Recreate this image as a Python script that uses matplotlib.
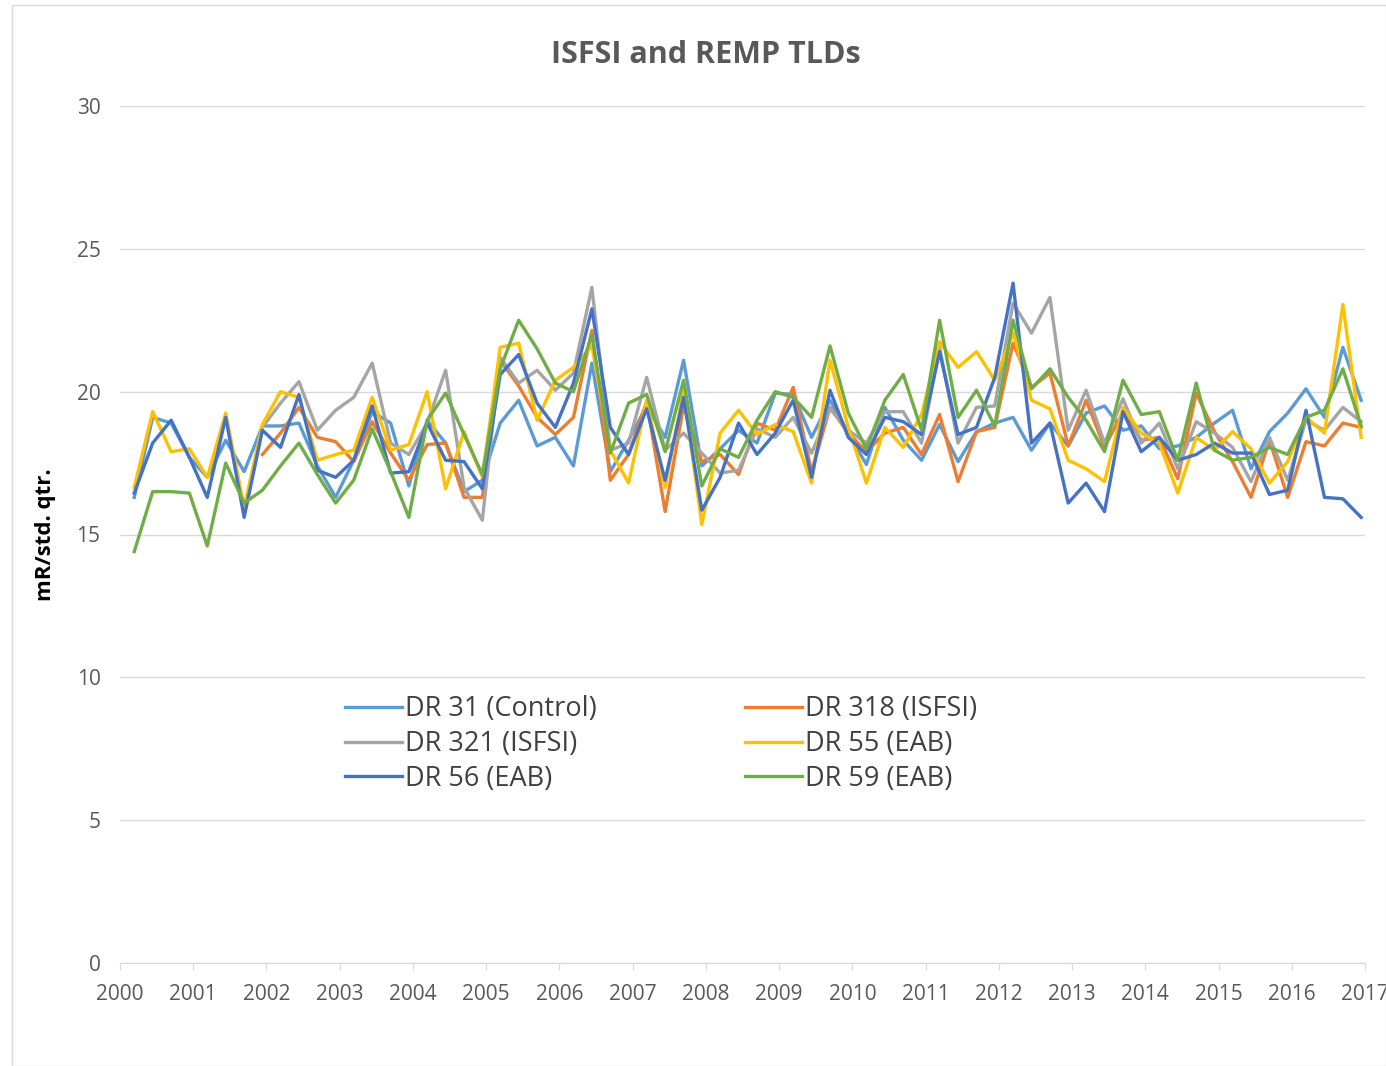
import numpy as np
import pandas as pd
import matplotlib
matplotlib.use("Agg")
import matplotlib.pyplot as plt
from matplotlib.patches import Rectangle

plt.rcParams['font.family'] = ['Open Sans', 'DejaVu Sans']

nan = np.nan
dates = pd.date_range("2000-03-01", periods=68, freq="3MS")

dr31 = [16.3, 19.1, 18.9, 17.7, 17.0, 18.3, 17.2, 18.8, 18.8, 18.9, 17.4, 16.3, 17.6, 19.3, 18.9, 16.7, 19.0, 18.2, 16.5, 16.9,
        18.9, 19.7, 18.1, 18.4, 17.4, 21.0, 17.2, 18.3, 19.5, 18.4, 21.1, 17.4, 18.0, 18.65, 18.2, 19.95, 19.9, 18.4, 19.7, 18.55,
        17.45, 19.45, 18.3, 17.6, 18.85, 17.55, 18.6, 18.9, 19.1, 17.95, 18.9, 18.1, 19.25, 19.5, 18.65, 18.8, 18.0, 18.1, 18.4, 18.9,
        19.35, 17.3, 18.6, 19.25, 20.1, 19.1, 21.55, 19.7]
dr318 = [nan, nan, nan, nan, nan, nan, nan, 17.8, 18.55, 19.45, 18.4, 18.25, 17.55, 18.95, 17.85, 16.9, 18.15, 18.2, 16.3, 16.3,
         21.1, 20.2, 19.1, 18.5, 19.1, 22.15, 16.9, 17.8, 19.65, 15.8, 19.5, 17.55, 17.8, 17.1, 18.9, 18.65, 20.15, 17.2, 19.45, 18.55,
         17.9, 18.55, 18.75, 17.8, 19.2, 16.85, 18.6, 18.75, 21.7, 20.15, 20.65, 18.1, 19.7, 18.05, 19.3, 18.3, 18.4, 16.95, 19.95, 18.6,
         17.55, 16.3, 18.3, 16.3, 18.25, 18.1, 18.9, 18.75]
dr321 = [nan, nan, nan, nan, nan, nan, nan, 18.75, 19.6, 20.35, 18.65, 19.35, 19.8, 21.0, 18.2, 17.8, 18.9, 20.75, 16.65, 15.5,
         21.2, 20.3, 20.75, 20.05, 20.65, 23.65, 17.95, 18.2, 20.5, 17.95, 18.55, 17.85, 17.15, 17.25, 18.7, 18.4, 19.1, 17.85, 19.4, 18.65,
         18.2, 19.3, 19.3, 18.2, 21.55, 18.2, 19.45, 19.5, 23.1, 22.05, 23.3, 18.65, 20.05, 18.2, 19.75, 18.2, 18.9, 17.3, 18.95, 18.55,
         18.05, 16.85, 18.4, 16.9, 19.0, 18.65, 19.45, 18.95]
dr55 = [16.65, 19.3, 17.9, 18.0, 17.0, 19.25, 15.95, 18.85, 20.0, 19.8, 17.6, 17.8, 17.95, 19.8, 17.95, 18.15, 20.0, 16.6, 18.6, 17.0,
        21.55, 21.7, 19.0, 20.4, 20.85, 21.6, 17.95, 16.8, 19.7, 16.65, 20.05, 15.35, 18.55, 19.35, 18.5, 18.85, 18.6, 16.8, 21.1, 18.75,
        16.8, 18.75, 18.05, 19.2, 21.75, 20.85, 21.4, 20.4, 22.05, 19.7, 19.4, 17.6, 17.3, 16.85, 19.45, 18.55, 18.2, 16.45, 18.4, 17.95,
        18.6, 18.0, 16.8, 17.55, 19.1, 18.55, 23.05, 18.4]
dr56 = [16.45, 18.2, 19.0, 17.7, 16.3, 19.1, 15.6, 18.65, 18.05, 19.9, 17.25, 17.0, 17.6, 19.5, 17.15, 17.2, 18.9, 17.6, 17.55, 16.6,
        20.6, 21.3, 19.6, 18.75, 20.3, 22.9, 18.75, 17.8, 19.4, 16.9, 19.8, 15.85, 17.0, 18.9, 17.8, 18.55, 19.7, 17.0, 20.05, 18.4,
        17.8, 19.1, 18.95, 18.5, 21.4, 18.5, 18.75, 20.5, 23.8, 18.2, 18.9, 16.1, 16.8, 15.8, 19.3, 17.9, 18.4, 17.6, 17.8, 18.2,
        17.85, 17.85, 16.4, 16.55, 19.35, 16.3, 16.25, 15.6]
dr59 = [14.4, 16.5, 16.5, 16.45, 14.6, 17.5, 16.1, 16.55, 17.4, 18.2, 17.1, 16.1, 16.9, 18.7, 17.2, 15.6, 19.0, 19.95, 18.5, 17.1,
        20.8, 22.5, 21.5, 20.3, 20.0, 22.0, 17.85, 19.6, 19.9, 17.9, 20.4, 16.7, 18.0, 17.7, 19.0, 20.0, 19.8, 19.1, 21.6, 19.25,
        18.0, 19.7, 20.6, 18.65, 22.5, 19.1, 20.05, 18.8, 22.5, 20.1, 20.8, 19.8, 19.0, 17.9, 20.4, 19.2, 19.3, 17.6, 20.3, 17.95,
        17.6, 17.7, 18.05, 17.8, 19.1, 19.35, 20.8, 18.8]

series = [("DR 31 (Control)", dr31, "#5B9BD5"),
          ("DR 318 (ISFSI)", dr318, "#ED7D31"),
          ("DR 321 (ISFSI)", dr321, "#A5A5A5"),
          ("DR 55 (EAB)", dr55, "#FFC000"),
          ("DR 56 (EAB)", dr56, "#4472C4"),
          ("DR 59 (EAB)", dr59, "#70AD47")]

years = list(range(2000, 2018))
yticks = [0, 5, 10, 15, 20, 25, 30]

t = dates.year + (dates.dayofyear - 1) / 365.25

fig = plt.figure(figsize=(13.86, 10.66), dpi=100)
fig.patches.append(Rectangle((12 / 1386, 0), 1 - 12 / 1386, 1 - 5 / 1066, transform=fig.transFigure,
                             fill=False, edgecolor="#D9D9D9", linewidth=1))
ax = fig.add_axes([120 / 1386, 103 / 1066, 1245 / 1386, 857 / 1066])

handles = {}
for name, vals, col in series:
    h, = ax.plot(t + 0.03, vals, color=col, lw=2.4, label=name, solid_joinstyle="round")
    handles[name] = h

ax.set_xlim(2000, 2017)
ax.set_ylim(0, 30)
ax.set_xticks(years)
ax.set_xticklabels([str(y) for y in years])
ax.set_yticks(yticks)
ax.grid(axis="y", color="#D9D9D9", lw=1)
ax.set_axisbelow(True)
for s in ["left", "right", "top"]:
    ax.spines[s].set_visible(False)
ax.spines["bottom"].set_color("#D9D9D9")
ax.tick_params(axis="x", colors="#D9D9D9", length=5, labelcolor="#595959", labelsize=15, pad=10)
ax.tick_params(axis="y", length=0, labelcolor="#595959", labelsize=15, pad=14)

ax.set_ylabel("mR/std. qtr.", fontsize=16, fontweight="bold", color="black", labelpad=15)
fig.text(0.509, 0.948, "ISFSI and REMP TLDs", ha="center", va="center", fontsize=22,
         fontweight="bold", color="#595959")

order = ["DR 31 (Control)", "DR 321 (ISFSI)", "DR 56 (EAB)", "DR 318 (ISFSI)", "DR 55 (EAB)", "DR 59 (EAB)"]
leg = ax.legend([handles[n] for n in order], order, ncol=2, loc="upper left",
                bbox_to_anchor=(0.172, 0.325), frameon=False, fontsize=19.5, handlelength=2.1,
                handletextpad=0.1, columnspacing=5.5, labelspacing=0.25, borderaxespad=0)
for txt in leg.get_texts():
    txt.set_color("#404040")

fig.savefig("out.png", dpi=100)
